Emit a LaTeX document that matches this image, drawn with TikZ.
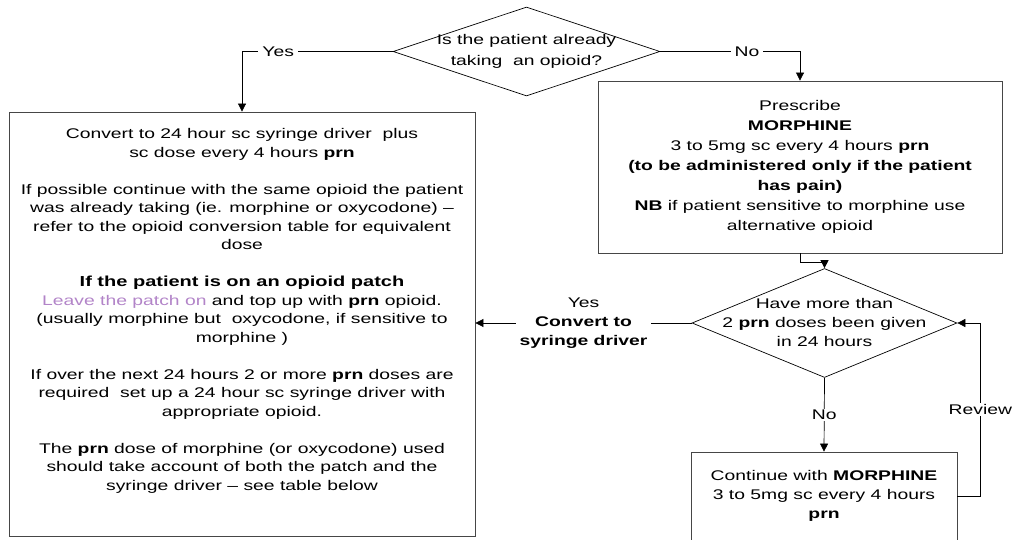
\documentclass[tikz,border=0pt]{standalone}
\usepackage{fontspec}
\setmainfont{Liberation Sans}[FakeStretch=1.38]
\usetikzlibrary{shapes.geometric,arrows.meta}
\definecolor{patchpurple}{RGB}{178,132,200}
\definecolor{boxgrey}{RGB}{70,70,70}

\begin{document}
\begin{tikzpicture}[x=1pt,y=-1pt,
  every node/.style={font=\fontsize{14}{18.5}\selectfont},
  box/.style={draw=boxgrey,line width=0.8pt,rectangle,inner sep=0pt,align=center},
  decision/.style={draw,diamond,inner sep=0pt,line width=0.7pt},
  txt/.style={align=center,inner sep=0pt},
  conn/.style={line width=0.7pt},
  arr/.style={conn,-{Triangle[width=8pt,length=8pt]}},
  lbl/.style={fill=white,inner xsep=4pt,inner ysep=1pt,align=center}]

\path[use as bounding box] (0,0) rectangle (1012,540);
\clip (0,0) rectangle (1012,540);

% first question
\node[decision,minimum width=267pt,minimum height=89pt] (q1) at (526.5,51.5) {};
\node[txt,font=\fontsize{14}{21}\selectfont] (q1text) at (q1.center)
  {Is the patient already\\taking\ \ an opioid?};

% left branch: patient already on an opioid
\node[box,minimum width=466pt,minimum height=424pt] (convert) at (242,324) {};
\node[txt] (convtext) at (242,311) {%
  Convert to 24 hour sc syringe driver\ \ plus\\
  sc dose every 4 hours \textbf{prn}\\[18.5pt]
  If possible continue with the same opioid the patient\\
  was already taking (ie. morphine or oxycodone) --\\
  refer to the opioid conversion table for equivalent\\
  dose\\[18.5pt]
  {\fontsize{14.5}{18.5}\selectfont\bfseries If the patient is on an opioid patch}\\
  \textcolor{patchpurple}{Leave the patch on} and top up with \textbf{prn} opioid.\\
  (usually morphine but\ \ oxycodone, if sensitive to\\
  morphine )\\[18.5pt]
  If over the next 24 hours 2 or more \textbf{prn} doses are\\
  required\ \ set up a 24 hour sc syringe driver with\\
  appropriate opioid.\\[18.5pt]
  The \textbf{prn} dose of morphine (or oxycodone) used\\
  should take account of both the patch and the\\
  syringe driver -- see table below};

% right branch: opioid naive
\node[box,minimum width=404pt,minimum height=172pt,font=\fontsize{14}{20}\selectfont]
  (prescribe) at (800,167) {%
  Prescribe\\
  \textbf{MORPHINE}\\
  3 to 5mg sc every 4 hours \textbf{prn}\\
  \textbf{(to be administered only if the patient}\\
  \textbf{has pain)}\\
  \textbf{NB} if patient sensitive to morphine use\\
  alternative opioid};

% second question
\node[decision,minimum width=265pt,minimum height=109pt] (q2) at (824.5,323) {};
\node[txt,font=\fontsize{14}{19}\selectfont] (q2text) at (824.5,322)
  {Have more than\\2 \textbf{prn} doses been given\\in 24 hours};

% continue prn morphine
\node[box,minimum width=266pt,minimum height=110pt] (cont) at (824,507) {};
\node[txt,font=\fontsize{14}{19}\selectfont] (conttext) at (824,496)
  {Continue with \textbf{MORPHINE}\\3 to 5mg sc every 4 hours\\\textbf{prn}};

% connectors
\draw[arr] (q1.west) -| node[lbl,pos=0.38] {Yes} (convert.north);
\draw[arr] (q1.east) -| node[lbl,pos=0.31] {No} (prescribe.north);
\draw[arr] (prescribe.south) -- ++(0,9) -| (q2.north);
\draw[arr] (q2.west) -- node[lbl,font=\fontsize{14}{19}\selectfont]
  {Yes\\\textbf{Convert to}\\\textbf{syringe driver}} (q2.west -| convert.east);
\draw[arr] (q2.south) -- node[lbl] {No} (cont.north);
\draw[arr] (conttext.center -| cont.east) -- ++(23,0)
  |- node[lbl,pos=0.25,inner xsep=1pt] {Review} (q2.east);
\end{tikzpicture}
\end{document}
